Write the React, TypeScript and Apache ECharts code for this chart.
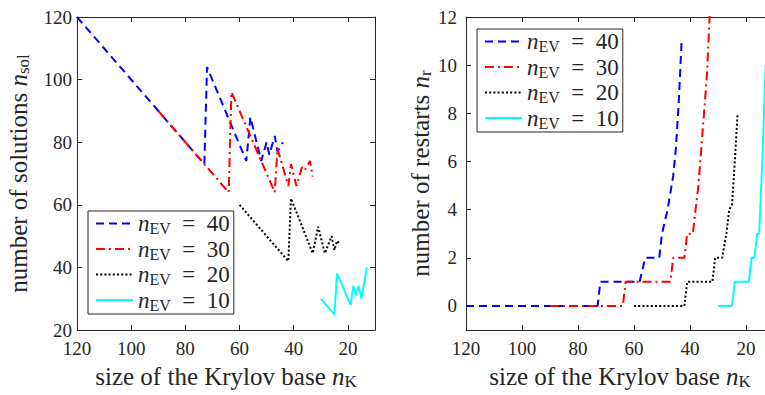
import React, { useEffect, useRef } from "react";
import * as echarts from "echarts";

// ---------- data ----------
const xTicks = [20, 40, 60, 80, 100, 120];
const solTicks = [20, 40, 60, 80, 100, 120];
const restartTicks = [0, 2, 4, 6, 8, 10, 12];
const evLabels = ["40", "30", "20", "10"];
const seriesNames = ["nEV40", "nEV30", "nEV20", "nEV10"];

// left panel: number of solutions vs size of Krylov base  [nK, nsol]
const nsol40 = [[120, 120], [73, 73], [72, 104], [57.5, 74], [56, 88], [52, 74], [50, 80], [49, 76], [47, 82], [46, 77], [44, 80]];
const nsol30 = [[90, 90], [64, 64], [63, 96], [47, 64], [46, 78], [42, 66], [41, 73], [39, 66], [37, 72], [36, 71], [34, 74], [33, 69]];
const nsol20 = [[60, 60], [42, 42], [41, 62], [33, 44.5], [31, 53], [28.5, 44.5], [26, 50], [25, 45.5], [24, 48.5], [23, 47.5]];
const nsol10 = [[30, 30], [25, 25], [24, 38], [19, 28], [18, 34], [17, 31], [16, 34], [15, 30], [13, 40]];

// right panel: number of restarts vs size of Krylov base  [nK, nr]
const nr40 = [[120, 0], [73, 0], [72, 1], [58, 1], [56, 2], [51, 2], [50, 3], [48, 4], [46, 5.4], [45, 6.6], [44, 8.5], [43, 11]];
const nr30 = [[90, 0], [64, 0], [63, 1], [47, 1], [46, 2], [42, 2], [41, 3], [39, 3], [38, 4], [37, 5], [36, 6.5], [35, 8], [34, 9.5], [33, 12], [32, 13.5]];
const nr20 = [[60, 0], [42, 0], [41, 1], [32, 1], [31, 2], [28.5, 2], [27, 3], [26, 4], [25, 4.2], [24, 6], [23, 8]];
const nr10 = [[30, 0], [25, 0], [24, 1], [19, 1], [18, 2], [17, 2], [16, 3], [15.3, 3], [14, 6.5], [13, 10]];

const FONT = "Liberation Serif";
const TXT = "#262626";
const COLORS = ["#0000ff", "#ff0000", "#000000", "#00ffff"];
const DASHES: any[] = [[8, 5], [9, 4, 2, 4], [2, 2.2], "solid"];

const makeRich = (size: number, sub: number, lh: number, subLh: number) => ({
  r: { fontFamily: FONT, fontSize: size, color: TXT, lineHeight: lh },
  n: { fontFamily: FONT, fontSize: size, fontStyle: "italic", color: TXT, lineHeight: lh },
  s: { fontFamily: FONT, fontSize: sub, color: TXT, lineHeight: subLh, verticalAlign: "bottom" },
});
const titleRich = makeRich(25, 17, 28, 11);
const legendRich = makeRich(23, 16, 26, 11);

export default function App() {
  const ref = useRef<HTMLDivElement>(null);
  useEffect(() => {
    document.body.style.margin = "0";
    const chart = echarts.init(ref.current!, undefined, { renderer: "svg" });

    const xAxisFor = (grid: number, top: boolean) => ({
      gridIndex: grid,
      type: "value",
      min: 10,
      max: 120,
      inverse: true,
      position: top ? "top" : "bottom",
      axisLine: { show: true, onZero: false, lineStyle: { color: TXT, width: 1 } },
      axisTick: { show: true, inside: true, length: 5, customValues: xTicks, lineStyle: { color: TXT } },
      axisLabel: {
        show: !top,
        customValues: xTicks,
        fontFamily: FONT,
        fontSize: 19,
        color: TXT,
        margin: 9,
      },
      splitLine: { show: false },
      name: top ? "" : "{r|size of the Krylov base }{n|n}{s|K}",
      nameLocation: "middle",
      nameGap: 32,
      nameTextStyle: { rich: titleRich },
    });

    const yAxisFor = (grid: number, right: boolean, kind: "sol" | "r") => {
      const isSol = kind === "sol";
      return {
        gridIndex: grid,
        type: "value",
        min: isSol ? 20 : -1,
        max: isSol ? 120 : 12,
        position: right ? "right" : "left",
        axisLine: { show: true, onZero: false, lineStyle: { color: TXT, width: 1 } },
        axisTick: {
          show: true,
          inside: true,
          length: 5,
          customValues: isSol ? solTicks : restartTicks,
          lineStyle: { color: TXT },
        },
        axisLabel: {
          show: !right,
          customValues: isSol ? solTicks : restartTicks,
          fontFamily: FONT,
          fontSize: 19,
          color: TXT,
          margin: isSol ? 5 : 9,
        },
        splitLine: { show: false },
        name: right ? "" : isSol ? "{r|number of solutions }{n|n}{s|sol}" : "{r|number of restarts }{n|n}{s|r}",
        nameLocation: "middle",
        nameGap: isSol ? 45 : 28,
        nameTextStyle: { rich: titleRich },
      };
    };

    const leftData = [nsol40, nsol30, nsol20, nsol10];
    const rightData = [nr40, nr30, nr20, nr10];
    const mk = (data: number[][], i: number, axis: number) => ({
      name: seriesNames[i],
      type: "line",
      xAxisIndex: axis,
      yAxisIndex: axis,
      data,
      symbol: "none",
      showSymbol: false,
      clip: true,
      lineStyle: { color: COLORS[i], width: 2, type: DASHES[i] },
      itemStyle: { color: COLORS[i] },
      z: 2 + i,
    });

    const legendCommon = {
      orient: "vertical",
      data: seriesNames,
      itemWidth: 37,
      itemHeight: 14,
      itemGap: 1,
      padding: [1, 4, 1, 7],
      borderColor: TXT,
      borderWidth: 1,
      backgroundColor: "#ffffff",
      selectedMode: false,
      itemStyle: { opacity: 0 },
      formatter: (name: string) => `{n|n}{s|EV}{r|  =  ${evLabels[seriesNames.indexOf(name)]}}`,
      textStyle: { rich: legendRich },
    };

    chart.setOption({
      animation: false,
      grid: [
        { left: 77, top: 17, width: 298, height: 315, containLabel: false },
        { left: 466, top: 17, width: 308, height: 315, containLabel: false },
      ],
      xAxis: [xAxisFor(0, false), xAxisFor(0, true), xAxisFor(1, false), xAxisFor(1, true)],
      yAxis: [yAxisFor(0, false, "sol"), yAxisFor(0, true, "sol"), yAxisFor(1, false, "r"), yAxisFor(1, true, "r")],
      legend: [
        { ...legendCommon, left: 88, top: 211 },
        { ...legendCommon, left: 477, top: 29 },
      ],
      series: [
        ...leftData.map((d, i) => mk(d, i, 0)),
        ...rightData.map((d, i) => mk(d, i, 2)),
      ],
    });
    return () => chart.dispose();
  }, []);
  return (
    <div style={{ width: 765, height: 395, overflow: "hidden", position: "relative" }}>
      <div ref={ref} style={{ width: 790, height: 395 }} />
    </div>
  );
}
